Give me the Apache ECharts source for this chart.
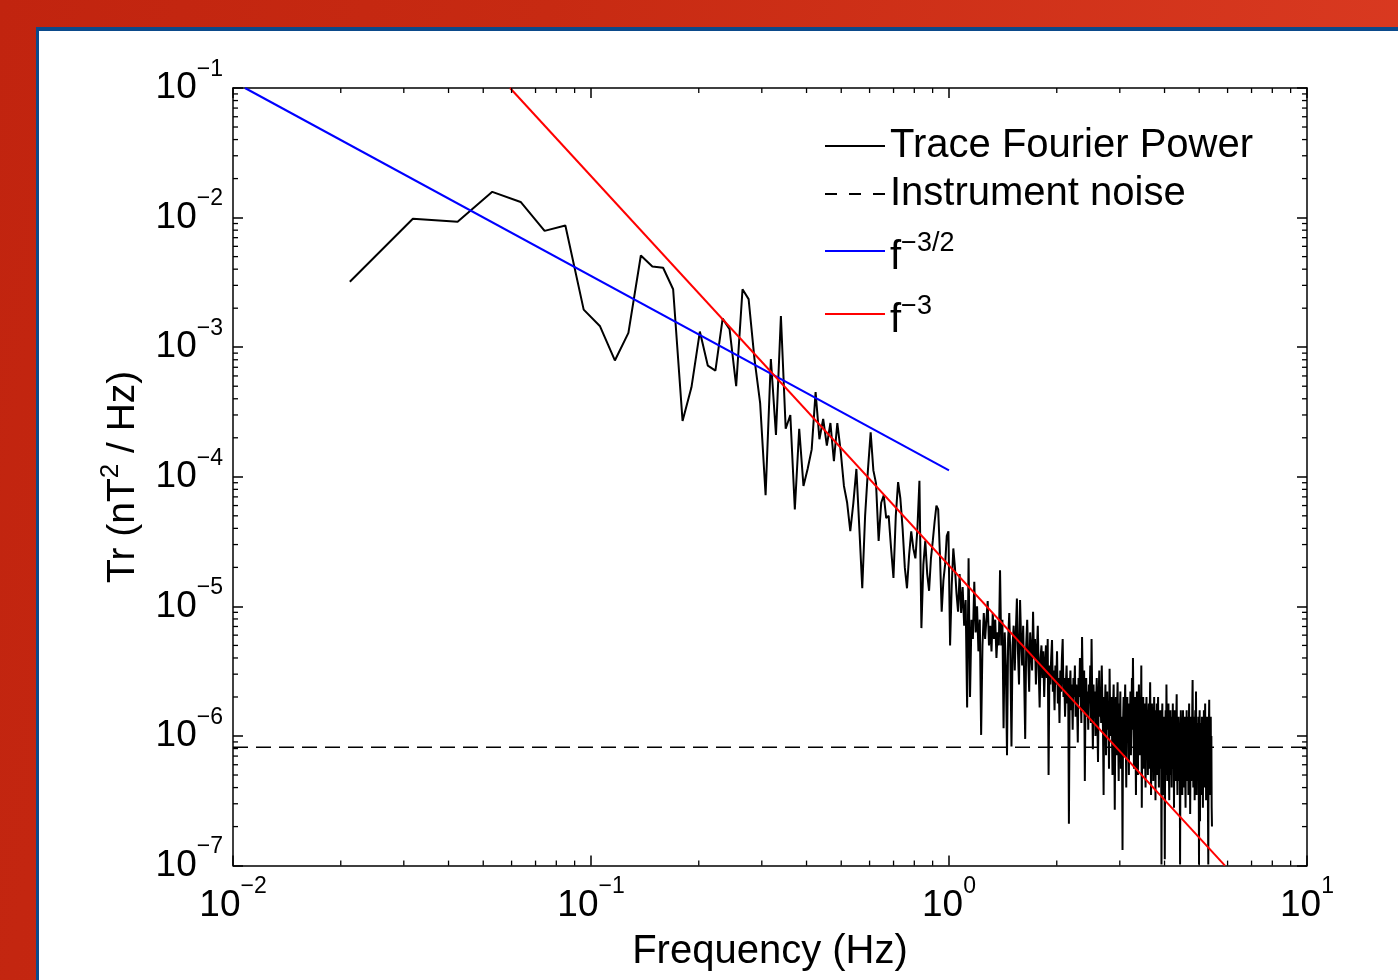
<!DOCTYPE html>
<html><head><meta charset="utf-8">
<script src="https://cdn.jsdelivr.net/npm/echarts@6/dist/echarts.min.js"></script>
<style>
html,body{margin:0;padding:0;width:1398px;height:980px;overflow:hidden;}
body{background:linear-gradient(100deg,#c1240f 0%,#c72a12 35%,#dc3c23 100%);position:relative;}
#panel{position:absolute;left:36px;top:27px;right:0;bottom:0;background:#fff;border-left:3px solid #0b4a8b;border-top:4px solid #0b4a8b;}
#chart{position:absolute;left:0;top:0;width:1398px;height:980px;}
</style></head><body><div id="panel"></div><div id="chart"></div>
<script>
// ---- data ----
const FREQ_STEP_HZ = 0.0106;   // FFT bin spacing
const FIRST_BIN = 2;           // first plotted bin index
const tracePower = [
3.2e-3, 9.8e-3, 9.3e-3, 1.58e-2, 1.32e-2, 7.9e-3, 8.7e-3, 1.95e-3, 1.45e-3, 7.9e-4,
1.29e-3, 5.1e-3, 4.2e-3, 4.1e-3, 2.8e-3, 2.7e-4, 4.9e-4, 1.32e-3, 7.2e-4, 6.6e-4,
1.66e-3, 1.38e-3, 5.0e-4, 2.8e-3, 2.35e-3, 8.1e-4, 3.7e-4, 7.2e-5, 8.1e-4, 2.1e-4,
1.74e-3, 2.35e-4, 3.0e-4, 5.6e-5, 2.35e-4, 8.5e-5, 1.15e-4, 1.62e-4, 4.5e-4, 1.95e-4,
2.8e-4, 1.74e-4, 2.6e-4, 1.32e-4, 2.6e-4, 1.58e-4, 8.5e-5, 6.3e-5, 3.8e-5, 6.3e-5,
1.15e-4, 4.0e-5, 1.38e-5, 5.0e-5, 1.12e-4, 2.2e-4, 1.12e-4, 8.9e-5, 3.2e-5, 6.3e-5,
7.2e-5, 4.8e-5, 5.0e-5, 2.8e-5, 1.66e-5, 5.0e-5, 9.1e-5, 6.8e-5, 4.0e-5, 2.0e-5,
1.38e-5, 2.5e-5, 3.8e-5, 2.8e-5, 2.35e-5, 4.0e-5, 9.3e-5, 6.8e-6, 2.1e-5, 3.2e-5,
1.78e-5, 1.32e-5, 2.35e-5, 3.2e-5, 4.5e-5, 6.0e-5, 5.6e-5, 2.5e-5, 9.1e-6, 1.58e-5,
2.1e-5, 3.5e-5, 3.8e-5, 5.0e-6, 1.45e-5, 2.8e-5, 2.0e-5, 1.26e-5, 9.1e-6, 1.78e-5,
8.9e-6, 1.41e-5, 7.1e-6, 1.12e-5, 1.66e-6, 2.35e-5, 2.0e-6, 7.9e-6, 5.6e-6, 1.55e-5,
6.3e-6, 1.0e-5, 4.5e-6, 7.9e-6, 1.02e-6, 5.0e-6, 8.9e-6, 5.6e-6, 7.9e-6, 1.1e-5,
5.0e-6, 7.1e-6, 4.5e-6, 8.9e-6, 5.6e-6, 7.9e-6, 4.0e-6, 6.3e-6, 5.0e-6, 1.9e-5,
5.0e-6, 7.9e-6, 1.15e-6, 6.3e-6, 3.5e-6, 7.1e-7, 5.6e-6, 8.9e-6, 4.0e-6, 8.3e-7,
5.0e-6, 7.1e-6, 3.2e-6, 6.3e-6, 1.15e-5, 4.5e-6, 2.5e-6, 1.12e-5, 5.6e-6, 3.5e-6,
7.1e-6, 2.8e-6, 9.5e-7, 5.0e-6, 7.9e-6, 4.0e-6, 2.2e-6, 6.3e-6, 4.5e-6, 3.2e-6,
9.1e-6, 4.0e-6, 5.6e-6, 2.5e-6, 4.5e-6, 7.1e-6, 3.2e-6, 1.66e-6, 4.0e-6, 5.0e-6,
2.8e-6, 4.5e-6, 2.0e-6, 3.5e-6, 5.0e-6, 2.8e-6, 5.6e-6, 5.0e-7, 3.5e-6, 2.5e-6,
4.0e-6, 5.5e-6, 2.2e-6, 3.2e-6, 1.58e-6, 3.5e-6, 2.5e-6, 4.5e-6, 1.78e-6, 2.8e-6,
1.26e-6, 3.2e-6, 2.2e-6, 4.0e-6, 5.6e-6, 2.0e-6, 2.8e-6, 1.41e-6, 2.5e-6, 3.5e-6,
1.78e-6, 2.8e-6, 2.1e-7, 2.2e-6, 3.2e-6, 1.58e-6, 2.5e-6, 1.12e-6, 2.8e-6, 2.0e-6,
3.5e-6, 1.41e-6, 2.5e-6, 1.78e-6, 8.9e-7, 2.8e-6, 2.0e-6, 4.0e-6, 2.2e-6, 1.26e-6,
5.8e-6, 2.5e-6, 1.58e-6, 3.2e-6, 4.5e-7, 2.0e-6, 2.8e-6, 1.41e-6, 2.2e-6, 1.12e-6,
2.5e-6, 1.78e-6, 3.5e-6, 1.26e-6, 5.6e-6, 2.0e-6, 7.9e-7, 2.5e-6, 1.41e-6, 2.2e-6,
1.0e-6, 1.78e-6, 2.8e-6, 1.26e-6, 6.3e-7, 2.0e-6, 3.2e-6, 1.41e-6, 2.2e-6, 1.26e-6,
3.5e-6, 1.78e-6, 1.12e-6, 3.5e-7, 2.0e-6, 1.41e-6, 2.5e-6, 7.1e-7, 1.58e-6, 2.2e-6,
1.12e-6, 1.78e-6, 5.6e-7, 3.3e-6, 1.41e-6, 1.0e-6, 2.0e-6, 1.26e-6, 5.0e-7, 1.58e-6,
2.5e-6, 1.12e-6, 2.7e-7, 1.41e-6, 2.0e-6, 7.1e-7, 1.58e-6, 2.6e-6, 1.12e-6, 4.5e-7,
1.78e-6, 1.26e-6, 2.2e-6, 5.6e-7, 1.41e-6, 1.0e-6, 1.32e-7, 1.26e-6, 2.0e-6, 7.1e-7,
1.58e-6, 2.5e-6, 1.12e-6, 4.0e-7, 1.41e-6, 2.0e-6, 1.0e-6, 1.58e-6, 5.0e-7, 1.78e-6,
1.26e-6, 2.2e-6, 7.1e-7, 1.41e-6, 2.8e-6, 1.12e-6, 4.0e-6, 1.58e-6, 5.6e-7, 1.26e-6,
2.0e-6, 1.0e-6, 3.5e-7, 1.41e-6, 2.2e-6, 1.12e-6, 5.0e-7, 1.58e-6, 2.5e-6, 1.26e-6,
7.1e-7, 1.78e-6, 1.12e-6, 3.5e-6, 2.8e-7, 1.41e-6, 1.0e-6, 2.0e-6, 5.6e-7, 1.26e-6,
1.78e-6, 7.1e-7, 4.0e-7, 1.41e-6, 2.0e-6, 1.0e-6, 1.58e-6, 5.0e-7, 1.12e-6, 1.78e-6,
5.6e-7, 1.41e-6, 2.6e-6, 1.0e-6, 3.5e-7, 1.26e-6, 1.78e-6, 7.1e-7, 1.41e-6, 4.5e-7,
1.12e-6, 2.0e-6, 5.6e-7, 1.26e-6, 3.2e-7, 1.58e-6, 1.0e-6, 1.78e-6, 5.0e-7, 1.12e-6,
2.0e-6, 7.1e-7, 4.0e-7, 1.41e-6, 1.0e-6, 1.58e-6, 5.6e-7, 1.26e-6, 1.02e-7, 1.12e-6,
1.78e-6, 7.1e-7, 3.5e-7, 1.41e-6, 5.6e-7, 1.26e-6, 1.12e-7, 1.0e-6, 1.58e-6, 5.0e-7,
2.5e-6, 1.12e-6, 4.5e-7, 1.41e-6, 7.1e-7, 1.78e-6, 5.6e-7, 3.2e-7, 1.26e-6, 1.0e-6,
1.58e-6, 5.0e-7, 1.12e-6, 4.0e-7, 1.41e-6, 7.1e-7, 1.78e-6, 5.6e-7, 1.26e-6, 2.8e-7,
1.0e-6, 1.58e-6, 5.0e-7, 1.12e-6, 4.5e-7, 1.41e-6, 2.1e-6, 7.1e-7, 3.5e-7, 1.26e-6,
5.6e-7, 1.41e-6, 1.0e-6, 4.5e-7, 1.12e-6, 1.02e-7, 7.1e-7, 1.58e-6, 5.0e-7, 1.26e-6,
7.1e-7, 3.5e-7, 1.12e-6, 1.58e-6, 5.6e-7, 1.26e-6, 4.0e-7, 1.0e-6, 1.41e-6, 5.0e-7,
2.8e-7, 1.12e-6, 7.1e-7, 1.58e-6, 4.5e-7, 1.26e-6, 5.6e-7, 1.41e-6, 3.5e-7, 1.0e-6,
1.78e-6, 5.0e-7, 1.12e-6, 2.5e-7, 7.1e-7, 1.41e-6, 4.5e-7, 1.26e-6, 5.6e-7, 1.58e-6,
2.7e-6, 1.0e-6, 4.0e-7, 1.26e-6, 5.6e-7, 1.41e-6, 3.2e-7, 1.0e-6, 1.58e-6, 5.0e-7,
2.2e-6, 7.1e-7, 3.5e-7, 1.26e-6, 5.6e-7, 1.12e-6, 4.5e-7, 1.41e-6, 7.1e-7, 1.02e-7,
1.0e-6, 1.58e-6, 2.2e-7, 1.12e-6, 5.0e-7, 1.26e-6, 3.5e-7, 7.1e-7, 1.41e-6, 4.5e-7,
1.0e-6, 2.8e-7, 1.26e-6, 5.6e-7, 1.58e-6, 4.0e-7, 1.12e-6, 7.1e-7, 1.78e-6, 5.0e-7,
1.0e-6, 3.2e-7, 1.26e-6, 5.6e-7, 1.41e-6, 4.0e-7, 1.0e-6, 2.5e-7, 1.02e-7, 7.1e-7,
1.26e-6, 1.9e-6, 5.0e-7, 3.5e-7, 1.12e-6, 5.6e-7, 1.41e-6, 4.5e-7, 1.0e-6, 2.8e-7,
2.0e-7
];
const noiseLevel = 8.2e-7;
const noiseSpan = [0.01, 10];
const slope32Ends = [[0.0108, 0.1], [1.0, 1.12e-4]];
const slope3Ends = [[0.0594, 0.1], [5.9, 1.0e-7]];
const X_RANGE = [0.01, 10];
const Y_RANGE = [1e-7, 0.1];
const SERIES_NAMES = ['Trace Fourier Power', 'Instrument noise', 'f^-3/2', 'f^-3'];
const X_TITLE = 'Frequency (Hz)';
const Y_TITLE = ['Tr (nT', '2', ' / Hz)'];

// ---- chart ----
const FONT = '"Liberation Sans", Arial, Helvetica, sans-serif';
const traceData = tracePower.map((p, i) => [(FIRST_BIN + i) * FREQ_STEP_HZ, p]);
const noiseData = noiseSpan.map(f => [f, noiseLevel]);

const xMinor = [], yMinor = [];
for (let e = -2; e < 1; e++) for (let m = 2; m <= 9; m++) xMinor.push([m * Math.pow(10, e), Y_RANGE[0]]);
for (let e = -7; e < -1; e++) for (let m = 2; m <= 9; m++) yMinor.push([X_RANGE[0], m * Math.pow(10, e)]);
const MINOR_LEN = 5;

function powLabel(v) {
  const e = Math.round(Math.log10(v));
  return '{b|10}{s|' + (e < 0 ? '\u2212' + (-e) : String(e)) + '}';
}
const tickRich = {
  b: { fontSize: 37, lineHeight: 60, fontFamily: FONT, color: '#000' },
  s: { fontSize: 23, lineHeight: 23, verticalAlign: 'top', fontFamily: FONT, color: '#000' }
};
const axisLineStyle = { color: '#000', width: 1.5 };
function tickLine(px, py, dx, dy) {
  return { type: 'line', shape: { x1: px, y1: py, x2: px + dx, y2: py + dy }, style: { stroke: '#000', lineWidth: 1.3 } };
}

const SOLID_ICON = 'rect';
const DASH_ICON = 'path://M0,0h12v2h-12zM24,0h12v2h-12zM48,0h12v2h-12z';

const chart = echarts.init(document.getElementById('chart'), null, { renderer: 'canvas' });
const legendBase = {
  left: 825, orient: 'vertical', itemWidth: 60, itemHeight: 2, itemGap: 0, padding: 0, selectedMode: false,
  itemStyle: { borderWidth: 0 },
  textStyle: { fontSize: 40, lineHeight: 46, color: '#000', fontFamily: FONT,
    rich: {
      n: { fontSize: 40, lineHeight: 46, padding: [14, 0, 0, 0], fontFamily: FONT, color: '#000' },
      s: { fontSize: 27, lineHeight: 27, verticalAlign: 'top', padding: [2, 0, 0, 0], fontFamily: FONT, color: '#000' }
    } }
};
chart.setOption({
  animation: false,
  backgroundColor: 'transparent',
  grid: { left: 233, right: 91, top: 88, bottom: 112, containLabel: false },
  legend: [
    Object.assign({}, legendBase, { top: 123, data: [{ name: SERIES_NAMES[0], icon: SOLID_ICON }] }),
    Object.assign({}, legendBase, { top: 171, data: [{ name: SERIES_NAMES[1], icon: DASH_ICON }] }),
    Object.assign({}, legendBase, { top: 224, data: [{ name: SERIES_NAMES[2], icon: SOLID_ICON }], formatter: () => '{n|f}{s|\u22123/2}' }),
    Object.assign({}, legendBase, { top: 287, data: [{ name: SERIES_NAMES[3], icon: SOLID_ICON }], formatter: () => '{n|f}{s|\u22123}' })
  ],
  xAxis: [
    { type: 'log', logBase: 10, min: X_RANGE[0], max: X_RANGE[1], position: 'bottom',
      axisLine: { show: true, lineStyle: axisLineStyle },
      axisTick: { show: true, inside: true, length: 10, lineStyle: axisLineStyle },
      splitLine: { show: false }, minorTick: { show: false },
      axisLabel: { formatter: powLabel, rich: tickRich, margin: 10 },
      name: X_TITLE, nameLocation: 'middle', nameGap: 57,
      nameTextStyle: { fontSize: 40, lineHeight: 46, color: '#000', fontFamily: FONT } },
    { type: 'log', logBase: 10, min: X_RANGE[0], max: X_RANGE[1], position: 'top',
      axisLine: { show: true, lineStyle: axisLineStyle },
      axisTick: { show: true, inside: true, length: 10, lineStyle: axisLineStyle },
      splitLine: { show: false }, axisLabel: { show: false } }
  ],
  yAxis: [
    { type: 'log', logBase: 10, min: Y_RANGE[0], max: Y_RANGE[1], position: 'left',
      axisLine: { show: true, lineStyle: axisLineStyle },
      axisTick: { show: true, inside: true, length: 10, lineStyle: axisLineStyle },
      splitLine: { show: false }, minorTick: { show: false },
      axisLabel: { formatter: powLabel, rich: tickRich, margin: 10 },
      name: '{n|' + Y_TITLE[0] + '}{s|' + Y_TITLE[1] + '}{n|' + Y_TITLE[2] + '}',
      nameLocation: 'middle', nameGap: 85, nameRotate: 90,
      nameTextStyle: { color: '#000', fontFamily: FONT,
        rich: { n: { fontSize: 39, lineHeight: 50, fontFamily: FONT, color: '#000' },
                s: { fontSize: 26, lineHeight: 26, verticalAlign: 'top', fontFamily: FONT, color: '#000' } } } },
    { type: 'log', logBase: 10, min: Y_RANGE[0], max: Y_RANGE[1], position: 'right',
      axisLine: { show: true, lineStyle: axisLineStyle },
      axisTick: { show: true, inside: true, length: 10, lineStyle: axisLineStyle },
      splitLine: { show: false }, axisLabel: { show: false } }
  ],
  series: [
    { name: SERIES_NAMES[0], type: 'line', data: traceData, symbol: 'none', showSymbol: false,
      lineStyle: { color: '#000', width: 2 }, itemStyle: { color: '#000' }, z: 2, silent: true },
    { name: SERIES_NAMES[1], type: 'line', data: noiseData, symbol: 'none', showSymbol: false,
      lineStyle: { color: '#000', width: 1.5, type: [15, 8] }, itemStyle: { color: '#000' }, z: 2, silent: true },
    { name: SERIES_NAMES[2], type: 'line', data: slope32Ends, symbol: 'none', showSymbol: false, clip: true,
      lineStyle: { color: '#0000ff', width: 2 }, itemStyle: { color: '#0000ff' }, z: 3, silent: true },
    { name: SERIES_NAMES[3], type: 'line', data: slope3Ends, symbol: 'none', showSymbol: false, clip: true,
      lineStyle: { color: '#ff0000', width: 2 }, itemStyle: { color: '#ff0000' }, z: 3, silent: true },
    { type: 'custom', data: xMinor, silent: true, clip: false, z: 4,
      renderItem: (params, api) => {
        const v = api.value(0);
        const b = api.coord([v, Y_RANGE[0]]), t = api.coord([v, Y_RANGE[1]]);
        return { type: 'group', children: [tickLine(b[0], b[1], 0, -MINOR_LEN), tickLine(t[0], t[1], 0, MINOR_LEN)] };
      } },
    { type: 'custom', data: yMinor, silent: true, clip: false, z: 4,
      renderItem: (params, api) => {
        const v = api.value(1);
        const l = api.coord([X_RANGE[0], v]), r = api.coord([X_RANGE[1], v]);
        return { type: 'group', children: [tickLine(l[0], l[1], MINOR_LEN, 0), tickLine(r[0], r[1], -MINOR_LEN, 0)] };
      } }
  ]
});
</script></body></html>
